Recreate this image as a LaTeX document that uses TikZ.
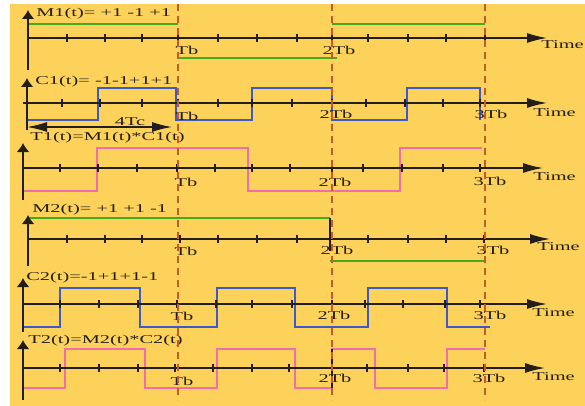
\documentclass[tikz,border=0pt]{standalone}
\usepackage{fontspec}
\setmainfont{Liberation Serif}
\usetikzlibrary{arrows.meta}
\definecolor{bgyel}{RGB}{252,210,90}
\definecolor{dashor}{RGB}{196,92,40}
\definecolor{wgreen}{RGB}{70,170,30}
\definecolor{wblue}{RGB}{60,90,200}
\definecolor{wpink}{RGB}{240,110,170}
\definecolor{axcol}{RGB}{35,30,25}
\tikzset{
  haxis/.style={draw=axcol, line width=1.5pt, -{Latex[length=20pt,width=10pt]}},
  vaxis/.style={draw=axcol, line width=2pt, -{Latex[length=9pt,width=13pt]}},
  tickmark/.style={draw=axcol, line width=1.5pt},
  wave/.style={line width=1.4pt},
  lbl/.style={font=\fontsize{12}{14}\selectfont, text=axcol, inner sep=0pt, xscale=1.7},
  dashv/.style={draw=dashor, line width=2pt, dash pattern=on 7pt off 5pt},
  dimarrow/.style={draw=axcol, line width=1.5pt, {Latex[length=20pt,width=10pt]}-{Latex[length=20pt,width=10pt]}}
}
\begin{document}
\begin{tikzpicture}[x=1pt,y=-1pt]
\useasboundingbox (0,0) rectangle (585,406);
\fill[bgyel] (10,4) rectangle (585,406);

% ---------- Row 1 : M1 ----------
\draw[wave, wgreen] (28,24) -- (178,24);
\draw[wave, wgreen] (178,58) -- (337,58);
\draw[wave, wgreen] (332,24) -- (485,24);
\draw[haxis] (28,38) -- (547,38);
\foreach \t in {67,105,142,178,218,257,297,332,368,408,446,485}
  \draw[tickmark] (\t,34) -- (\t,42);
\draw[vaxis] (28,70) -- (28,10);
\node[lbl, anchor=west] (m1) at (36,14) {M1(t)= +1 -1 +1};
\node[lbl] (m1tb) at (187,50) {Tb};
\node[lbl] (m1tb2) at (339,50) {2Tb};
\node[lbl, anchor=west] (m1time) at (541,45) {Time};

% ---------- Row 2 : C1 ----------
\draw[wave, wblue] (27,120) -- (98,120) -- (98,88) -- (176,88) -- (176,120)
  -- (252,120) -- (252,88) -- (332,88) -- (332,120) -- (407,120) -- (407,88)
  -- (480,88) -- (480,120);
\draw[haxis] (23,103) -- (547,103);
\foreach \t in {62,100,142,178,218,252,292,332,366,405,443,480}
  \draw[tickmark] (\t,99) -- (\t,107);
\draw[vaxis] (27,130) -- (27,78);
\node[lbl, anchor=west] (c1) at (35,82) {C1(t)= -1-1+1+1};
\node[lbl] (c1tb) at (187,116) {Tb};
\node[lbl] (c1tb2) at (336,114) {2Tb};
\node[lbl] (c1tb3) at (491,114) {3Tb};
\node[lbl, anchor=west] (c1time) at (533,113) {Time};
\coordinate (tcA) at (27,127);
\coordinate (tcB) at (172,127);
\draw[dimarrow] (tcA) -- (tcB);
\node[lbl] (tc) at (130,122) {4Tc};

% ---------- Row 3 : T1 ----------
\draw[wave, wpink] (23,191) -- (97,191) -- (97,148) -- (248,148) -- (248,191)
  -- (400,191) -- (400,148) -- (482,148);
\draw[haxis] (22,168) -- (543,168);
\foreach \t in {60,98,137,177,215,252,290,332,363,402,443,480}
  \draw[tickmark] (\t,164) -- (\t,172);
\draw[vaxis] (23,200) -- (23,143);
\node[lbl, anchor=west] (t1) at (30,138) {T1(t)=M1(t)*C1(t)};
\node[lbl] (t1tb) at (186,182) {Tb};
\node[lbl] (t1tb2) at (335,182) {2Tb};
\node[lbl] (t1tb3) at (490,181) {3Tb};
\node[lbl, anchor=west] (t1time) at (533,177) {Time};

% ---------- Row 4 : M2 ----------
\draw[wave, wgreen] (28,218) -- (330,218);
\draw[wave, wgreen] (330,261) -- (485,261);
\draw[haxis] (28,239) -- (550,239);
\foreach \t in {67,105,142,180,218,257,297,330,368,408,446,484}
  \draw[tickmark] (\t,235) -- (\t,243);
\draw[line width=2pt, axcol] (330,218) -- (330,251);
\draw[vaxis] (28,266) -- (28,215);
\node[lbl, anchor=west] (m2) at (32,210) {M2(t)= +1 +1 -1};
\node[lbl] (m2tb) at (186,251) {Tb};
\node[lbl] (m2tb2) at (337,250) {2Tb};
\node[lbl] (m2tb3) at (493,250) {3Tb};
\node[lbl, anchor=west] (m2time) at (537,247) {Time};

% ---------- Row 5 : C2 ----------
\draw[wave, wblue] (23,327) -- (60,327) -- (60,288) -- (140,288) -- (140,327)
  -- (217,327) -- (217,288) -- (295,288) -- (295,327) -- (368,327) -- (368,288)
  -- (447,288) -- (447,327) -- (490,327);
\draw[haxis] (22,304) -- (547,304);
\foreach \t in {60,99,138,177,216,252,292,332,365,403,445,480}
  \draw[tickmark] (\t,300) -- (\t,308);
\draw[vaxis] (23,332) -- (23,278);
\node[lbl, anchor=west] (c2) at (26,278) {C2(t)=-1+1+1-1};
\node[lbl] (c2tb) at (182,316) {Tb};
\node[lbl] (c2tb2) at (334,315) {2Tb};
\node[lbl] (c2tb3) at (490,315) {3Tb};
\node[lbl, anchor=west] (c2time) at (532,313) {Time};

% ---------- Row 6 : T2 ----------
\draw[wave, wpink] (23,388) -- (65,388) -- (65,349) -- (145,349) -- (145,388)
  -- (217,388) -- (217,349) -- (295,349) -- (295,388) -- (332,388) -- (332,349)
  -- (375,349) -- (375,388) -- (447,388) -- (447,349) -- (485,349);
\draw[haxis] (22,368) -- (545,368);
\foreach \t in {60,99,138,175,213,252,289,332,367,408,444,484}
  \draw[tickmark] (\t,364) -- (\t,372);
\draw[line width=2pt, axcol] (332,349) -- (332,392);
\draw[vaxis] (23,400) -- (23,340);
\node[lbl, anchor=west] (t2) at (28,341) {T2(t)=M2(t)*C2(t)};
\node[lbl] (t2tb) at (182,381) {Tb};
\node[lbl] (t2tb2) at (335,378) {2Tb};
\node[lbl] (t2tb3) at (489,378) {3Tb};
\node[lbl, anchor=west] (t2time) at (532,377) {Time};

% ---------- dashed bit boundaries ----------
\foreach \x in {178,332,485}
  \draw[dashv] (\x,4) -- (\x,400);
\end{tikzpicture}
\end{document}
